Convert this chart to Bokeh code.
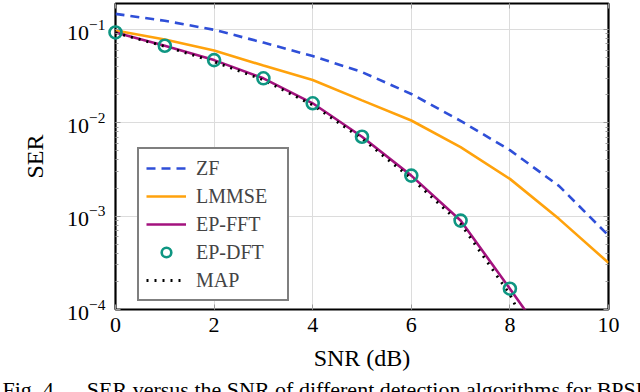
from bokeh.plotting import figure
from bokeh.models import (Range1d, FixedTicker, LogTickFormatter, LogAxis, LinearAxis,
                          CustomJSTickFormatter, Label)
from bokeh.embed import file_html
from bokeh.resources import INLINE

# ---- data ----
snr = [0, 1, 2, 3, 4, 5, 6, 7, 8, 9, 10]
zf_ser = [0.147, 0.124, 0.0993, 0.0724, 0.0519, 0.035, 0.0204, 0.0105, 0.0051, 0.0021, 0.00062]
lmmse_ser = [0.0977, 0.0782, 0.0596, 0.0411, 0.0288, 0.0174, 0.0106, 0.0055, 0.00251, 0.00093, 0.000316]

snr_fft = [0, 1, 2, 3, 4, 5, 6, 7, 8, 9]
epfft_ser = [0.093, 0.067, 0.047, 0.030, 0.0162, 0.0071, 0.00272, 0.000897, 0.000167, 0.00003]

snr_dft = [0, 1, 2, 3, 4, 5, 6, 7, 8]
epdft_ser = [0.093, 0.067, 0.047, 0.030, 0.0162, 0.0071, 0.00272, 0.000897, 0.000167]

snr_map = [0, 1, 2, 3, 4, 5, 6, 7, 8, 9]
map_ser = [0.0923, 0.066, 0.0452, 0.0288, 0.0155, 0.00676, 0.00254, 0.00083, 0.000145, 0.0000126]

x_ticks = [0, 2, 4, 6, 8, 10]
y_ticks = [1e-4, 1e-3, 1e-2, 1e-1]
y_minor = [m * d for d in [1e-4, 1e-3, 1e-2, 1e-1] for m in range(2, 10)]

NB = "\u00a0"
caption = "Fig. 4." + NB * 5 + "SER versus the SNR of different detection algorithms for BPSK"

FONT = "Liberation Serif"
GRID = "#dcdcdc"
TICK = "#9a9a9a"

p = figure(width=640, height=404, y_axis_type="log",
           x_range=Range1d(0, 10), y_range=Range1d(1e-4, 0.19),
           output_backend="svg", toolbar_location=None,
           min_border_left=115, min_border_right=32,
           min_border_top=3, min_border_bottom=95,
           x_axis_label="SNR (dB)", y_axis_label="SER")

p.outline_line_color = "black"
p.outline_line_width = 2.2
p.background_fill_color = "white"
p.border_fill_color = "white"

p.xaxis.ticker = FixedTicker(ticks=x_ticks)
p.yaxis.ticker = FixedTicker(ticks=y_ticks, minor_ticks=y_minor)
p.yaxis.formatter = LogTickFormatter()

for ax in (p.xaxis[0], p.yaxis[0]):
    ax.axis_line_color = None
    ax.major_tick_in = 5
    ax.major_tick_out = 0
    ax.minor_tick_in = 3
    ax.minor_tick_out = 0
    ax.major_tick_line_color = TICK
    ax.minor_tick_line_color = TICK
    ax.major_label_text_font = FONT
    ax.major_label_text_font_size = "22px"
    ax.major_label_text_color = "black"
    ax.axis_label_text_font = FONT
    ax.axis_label_text_font_size = "24px"
    ax.axis_label_text_font_style = "normal"
    ax.axis_label_text_color = "black"
p.xaxis.minor_tick_line_color = None
p.xaxis.major_label_standoff = 8
p.xaxis.axis_label_standoff = 10
p.yaxis.major_label_standoff = 10
p.yaxis.axis_label_standoff = 16

# mirrored axes (ticks only, labels hidden)
blank = CustomJSTickFormatter(code="return ''")
right_ax = LogAxis(ticker=FixedTicker(ticks=y_ticks, minor_ticks=y_minor),
                   formatter=blank,
                   axis_line_color=None, major_tick_in=5, major_tick_out=0,
                   minor_tick_in=3, minor_tick_out=0,
                   major_tick_line_color=TICK, minor_tick_line_color=TICK,
                   major_label_text_font_size="1px", major_label_text_color=None,
                   major_label_standoff=0)
top_ax = LinearAxis(ticker=FixedTicker(ticks=x_ticks), formatter=blank,
                    axis_line_color=None, major_tick_in=5, major_tick_out=0,
                    minor_tick_line_color=None,
                    major_tick_line_color=TICK,
                    major_label_text_font_size="1px", major_label_text_color=None,
                    major_label_standoff=0)
p.add_layout(right_ax, "right")
p.add_layout(top_ax, "above")

p.xgrid.grid_line_color = GRID
p.ygrid.grid_line_color = GRID
p.xgrid.grid_line_width = 1
p.ygrid.grid_line_width = 1

p.line(snr, zf_ser, line_color="#2f4fd8", line_width=2.6, line_dash="9 6",
       legend_label="ZF")
p.line(snr, lmmse_ser, line_color="#ffa20c", line_width=2.6,
       legend_label="LMMSE")
p.line(snr_fft, epfft_ser, line_color="#a3127e", line_width=2.6,
       legend_label="EP-FFT")
p.scatter(snr_dft, epdft_ser, marker="circle", size=12, fill_color=None,
          line_color="#0e9682", line_width=2.6, legend_label="EP-DFT", level="overlay")
p.line(snr_map, map_ser, line_color="black", line_width=2.8, line_dash="2 6",
       legend_label="MAP")

lg = p.legend[0]
lg.location = (22, 8)
lg.border_line_color = "black"
lg.border_line_width = 2.5
lg.background_fill_color = "white"
lg.background_fill_alpha = 1
lg.label_text_font = FONT
lg.label_text_font_size = "20px"
lg.glyph_width = 40
lg.glyph_height = 24
lg.label_height = 24
lg.label_width = 84
lg.spacing = 4
lg.padding = 7
lg.margin = 0
lg.label_standoff = 10

cap = Label(x=2, y=376, x_units="canvas", y_units="canvas", text=caption,
            text_font=FONT, text_font_size="22px", text_baseline="top",
            text_color="black")
p.add_layout(cap, "below")

open("out.html", "w").write(file_html(p, INLINE))
